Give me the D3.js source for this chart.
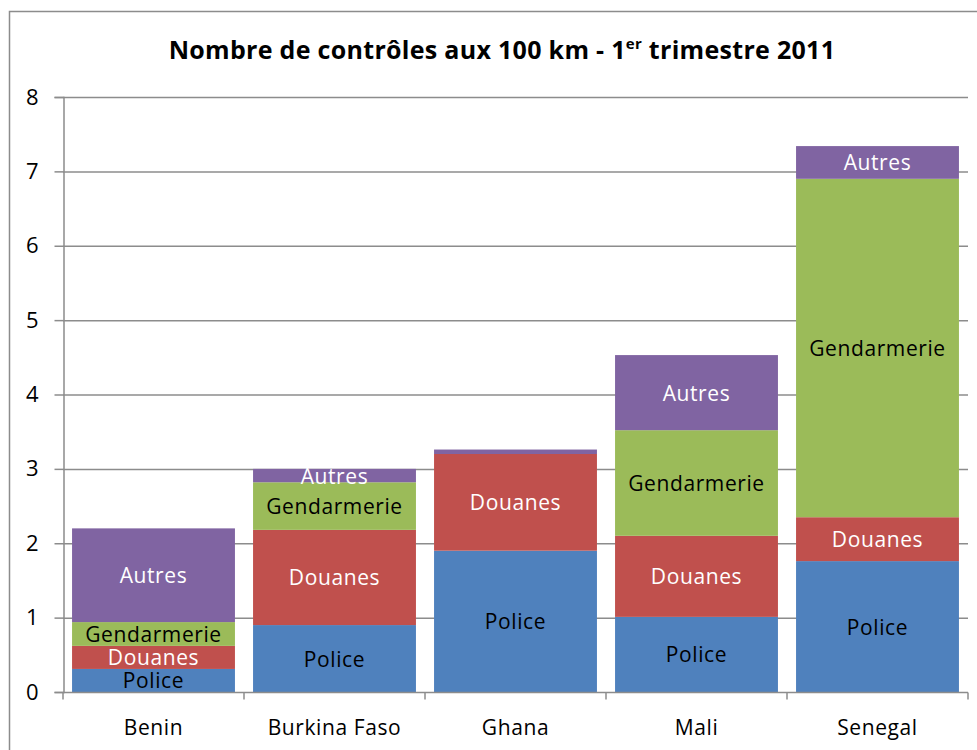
<!DOCTYPE html>
<html lang="fr">
<head>
<meta charset="UTF-8">
<style>
body{
	margin: 0;
	background-color: white;
	font-family: "Open Sans", sans-serif;
}
</style>
<script src="https://d3js.org/d3.v7.min.js"></script>
</head>
<body>
<svg width="977" height="750"></svg>
<script>
const pays = ["Benin", "Burkina Faso", "Ghana", "Mali", "Senegal"];
const services = ["Police", "Douanes", "Gendarmerie", "Autres"];
const police = [0.31, 0.90, 1.90, 1.01, 1.76];
const douanes = [0.31, 1.28, 1.30, 1.09, 0.59];
const gendarmerie = [0.32, 0.64, 0, 1.42, 4.55];
const autres = [1.26, 0.18, 0.06, 1.01, 0.44];
const yTicks = [0, 1, 2, 3, 4, 5, 6, 7, 8];

const couleurs = ["#4f81bd", "#c0504d", "#9bbb59", "#8064a2"];
const texteCouleur = ["#000", "#fff", "#000", "#fff"];

const rows = pays.map(function(p, i) {
	return {pays: p, Police: police[i], Douanes: douanes[i], Gendarmerie: gendarmerie[i], Autres: autres[i]};
});

const svg = d3.select("svg");

// cadre du graphique
svg.append("rect")
	.attr("x", 9.5).attr("y", 11.5)
	.attr("width", 1000).attr("height", 800)
	.attr("fill", "white")
	.attr("stroke", "#8c8c8c")
	.attr("stroke-width", 1.5);

// titre
const titre = svg.append("text")
	.attr("x", 502).attr("y", 59)
	.attr("text-anchor", "middle")
	.style("font-size", "25px")
	.style("font-weight", "bold")
	.style("letter-spacing", "0.3px");
titre.append("tspan").text("Nombre de contrôles aux 100 km - 1");
titre.append("tspan").attr("dy", -10).style("font-size", "15px").text("er");
titre.append("tspan").attr("dy", 10).text(" trimestre 2011");

const mLeft = 63, mRight = 968, mTop = 97, mBottom = 692;

const x = d3.scaleBand().domain(pays).range([mLeft, mRight]).paddingInner(0.1).paddingOuter(0.05);
const y = d3.scaleLinear().domain([0, 8]).range([mBottom, mTop]);

// grille
svg.append("g")
	.selectAll("line")
	.data(yTicks.slice(1))
	.join("line")
	.attr("x1", mLeft).attr("x2", mRight)
	.attr("y1", function(d) { return y(d) + 0.5; })
	.attr("y2", function(d) { return y(d) + 0.5; })
	.attr("stroke", "#8c8c8c")
	.attr("stroke-width", 1.5);

const stack = d3.stack().keys(services)(rows);

const serie = svg.append("g")
	.selectAll("g")
	.data(stack)
	.join("g")
	.attr("fill", function(d, i) { return couleurs[i]; });

serie.selectAll("rect")
	.data(function(d) { return d; })
	.join("rect")
	.attr("x", function(d) { return x(d.data.pays); })
	.attr("width", x.bandwidth())
	.attr("y", function(d) { return y(d[1]); })
	.attr("height", function(d) { return y(d[0]) - y(d[1]); });

// étiquettes
stack.forEach(function(s, i) {
	svg.append("g")
		.selectAll("text")
		.data(s.filter(function(d) { return d[1] - d[0] > 0.1; }))
		.join("text")
		.attr("x", function(d) { return x(d.data.pays) + x.bandwidth() / 2; })
		.attr("y", function(d) { return (y(d[0]) + y(d[1])) / 2 + 8; })
		.attr("text-anchor", "middle")
		.attr("fill", texteCouleur[i])
		.style("font-size", "21px")
		.style("letter-spacing", "0.6px")
		.text(s.key);
});

// axe y
const yAxis = svg.append("g")
	.attr("transform", "translate(" + (mLeft + 0.5) + ",0)")
	.call(d3.axisLeft(y).tickValues(yTicks).tickSize(9).tickPadding(16));
yAxis.selectAll("line, path").attr("stroke", "#8c8c8c").attr("stroke-width", 1.5);
yAxis.selectAll("text").style("font-size", "22px").style("font-family", "Open Sans").attr("fill", "black");

// axe x
const xAxis = svg.append("g")
	.attr("transform", "translate(0," + (mBottom + 0.5) + ")");
xAxis.append("line")
	.attr("x1", mLeft).attr("x2", mRight)
	.attr("stroke", "#8c8c8c").attr("stroke-width", 1.5);
const bords = pays.map(function(p) { return x(p) - x.step() * x.paddingInner() / 2; }).concat([mRight]);
xAxis.selectAll(".tick")
	.data(bords)
	.join("line")
	.attr("x1", function(d) { return d; }).attr("x2", function(d) { return d; })
	.attr("y1", 0).attr("y2", 7)
	.attr("stroke", "#8c8c8c").attr("stroke-width", 1.5);
xAxis.selectAll("text")
	.data(pays)
	.join("text")
	.attr("x", function(d) { return x(d) + x.bandwidth() / 2; })
	.attr("y", 42)
	.attr("text-anchor", "middle")
	.style("font-size", "21px")
	.style("letter-spacing", "0.6px")
	.text(function(d) { return d; });
</script>
</body>
</html>
